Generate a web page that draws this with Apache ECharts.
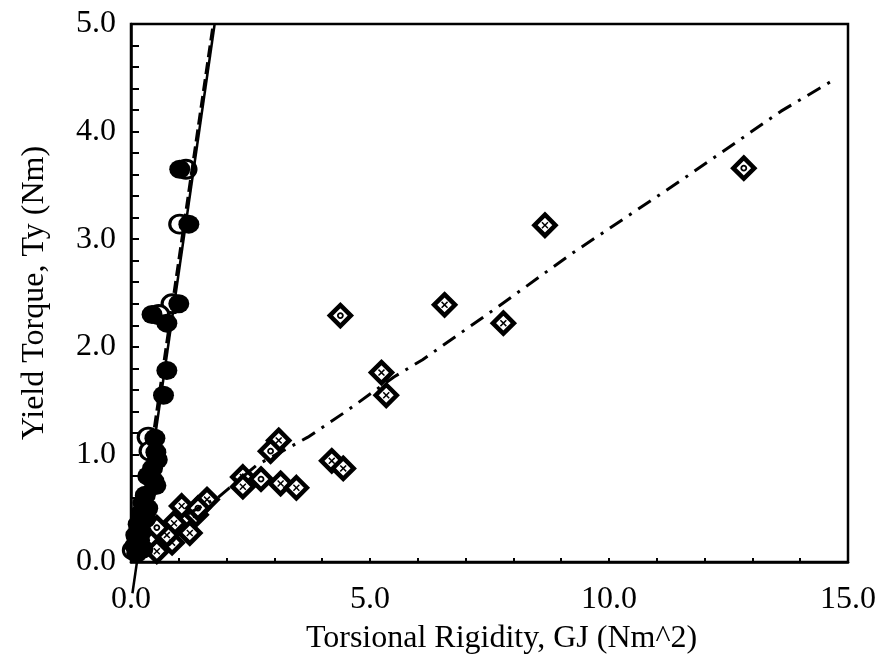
<!DOCTYPE html>
<html>
<head>
<meta charset="utf-8">
<script src="https://cdn.jsdelivr.net/npm/echarts@6/dist/echarts.min.js"></script>
<style>
html,body{margin:0;padding:0;background:#fff;}
#chart{width:881px;height:666px;}
</style>
</head>
<body>
<div id="chart"></div>
<script>
// Filled circles [GJ, Ty]
const filledCircles = [
  [1.02,3.65],[1.21,3.14],[1.00,2.40],[0.44,2.30],[0.75,2.22],[0.75,1.78],[0.68,1.55],
  [0.50,1.15],[0.52,1.02],[0.55,0.95],[0.45,0.87],[0.35,0.80],[0.48,0.75],[0.52,0.71],
  [0.30,0.62],[0.25,0.55],[0.35,0.50],[0.20,0.45],[0.30,0.40],[0.15,0.35],[0.22,0.28],
  [0.10,0.25],[0.18,0.20],[0.08,0.15],[0.25,0.12],[0.12,0.08]
];
// Open circles [GJ, Ty]
const openCircles = [
  [1.15,3.65],[1.02,3.14],[0.86,2.40],[0.58,2.30],[0.36,1.16],[0.40,1.03],[0.05,0.11],
  [0.22,0.30],[0.30,0.48]
];
// Diamonds with an "x" inside
const diamondsX = [
  [8.66,3.13],[6.56,2.39],[7.79,2.22],[5.24,1.76],[5.34,1.55],[3.09,1.13],[4.20,0.94],
  [4.44,0.87],[2.34,0.79],[2.34,0.70],[3.13,0.73],[3.46,0.69],[1.59,0.58],[1.06,0.52],
  [1.36,0.44],[1.23,0.27],[0.90,0.36],[0.86,0.18],[0.54,0.10],[0.75,0.25]
];
// Diamonds with an "o" inside
const diamondsO = [
  [12.82,3.66],[4.38,2.29],[2.92,1.03],[2.72,0.77],[1.40,0.50],[0.54,0.32]
];
// Fitted lines
const solidLine = [[0.03,-0.29],[1.75,5.0]];
const dashedLine = [[0.08,0.0],[1.72,5.0]];
const dashDotLine = [
  [1.20,0.45],[1.82,0.60],[2.63,0.90],[3.70,1.16],[4.50,1.40],[5.50,1.72],[6.10,1.88],
  [7.64,2.36],[9.20,2.86],[11.52,3.55],[13.60,4.19],[14.66,4.47]
];
const xTickValues = [0, 5, 10, 15];
const yTickValues = [0, 1, 2, 3, 4, 5];

const FONT = 'Liberation Serif';
const crossPath = 'path://M0,1.5L1.5,0L5,3.5L8.5,0L10,1.5L6.5,5L10,8.5L8.5,10L5,6.5L1.5,10L0,8.5L3.5,5Z';

const chart = echarts.init(document.getElementById('chart'), null, {renderer:'canvas'});
chart.setOption({
  backgroundColor:'#fff',
  animation:false,
  grid:{left:131, right:33, top:24, bottom:104, show:true, borderColor:'#000', borderWidth:2.5, backgroundColor:'transparent'},
  xAxis:{
    type:'value', min:xTickValues[0], max:xTickValues[xTickValues.length-1], interval:5,
    name:'Torsional Rigidity, GJ (Nm^2)', nameLocation:'middle', nameGap:61,
    nameTextStyle:{fontFamily:FONT, fontSize:32, color:'#000', padding:[0,0,0,24]},
    axisLine:{show:true, onZero:false, lineStyle:{color:'#000', width:2.5}},
    axisTick:{show:true, inside:true, length:4, lineStyle:{color:'#000', width:2}},
    minorTick:{show:true, splitNumber:5, length:4, lineStyle:{color:'#000', width:2}},
    splitLine:{show:false},
    axisLabel:{fontFamily:FONT, fontSize:32, color:'#000', margin:22, formatter:v=>v.toFixed(1)}
  },
  yAxis:{
    type:'value', min:yTickValues[0], max:yTickValues[yTickValues.length-1], interval:1,
    name:'Yield Torque, Ty (Nm)', nameLocation:'middle', nameGap:80,
    nameTextStyle:{fontFamily:FONT, fontSize:32, color:'#000'},
    axisLine:{show:true, onZero:false, lineStyle:{color:'#000', width:2.5}},
    axisTick:{show:true, inside:true, length:8, lineStyle:{color:'#000', width:2}},
    minorTick:{show:true, splitNumber:5, length:8, lineStyle:{color:'#000', width:2}},
    splitLine:{show:false},
    axisLabel:{fontFamily:FONT, fontSize:32, color:'#000', margin:15, formatter:v=>v.toFixed(1)}
  },
  series:[
    {type:'scatter', data:openCircles, symbol:'circle', symbolSize:[20,18],
     itemStyle:{color:'#fff', borderColor:'#000', borderWidth:3, opacity:1}, z:3},
    {type:'scatter', data:filledCircles, symbol:'circle', symbolSize:[21,19],
     itemStyle:{color:'#000', opacity:1}, z:4},
    {type:'scatter', data:diamondsX, symbol:'diamond', symbolSize:21,
     itemStyle:{color:'#fff', borderColor:'#000', borderWidth:4.5, opacity:1}, z:3},
    {type:'scatter', data:diamondsX, symbol:crossPath, symbolSize:7,
     itemStyle:{color:'#000', opacity:1}, z:3},
    {type:'scatter', data:diamondsO, symbol:'diamond', symbolSize:21,
     itemStyle:{color:'#fff', borderColor:'#000', borderWidth:4.5, opacity:1}, z:3},
    {type:'scatter', data:diamondsO, symbol:'circle', symbolSize:5,
     itemStyle:{color:'#fff', borderColor:'#000', borderWidth:1.8, opacity:1}, z:3},
    {type:'line', data:solidLine, symbol:'none', clip:false,
     lineStyle:{color:'#000', width:2.5, type:'solid'}, z:5},
    {type:'line', data:dashedLine, symbol:'none', clip:false,
     lineStyle:{color:'#000', width:3, type:[12,5]}, z:5},
    {type:'line', data:dashDotLine, symbol:'none', clip:false,
     lineStyle:{color:'#000', width:3, type:[15,8,3,8]}, z:5}
  ]
});
</script>
</body>
</html>
